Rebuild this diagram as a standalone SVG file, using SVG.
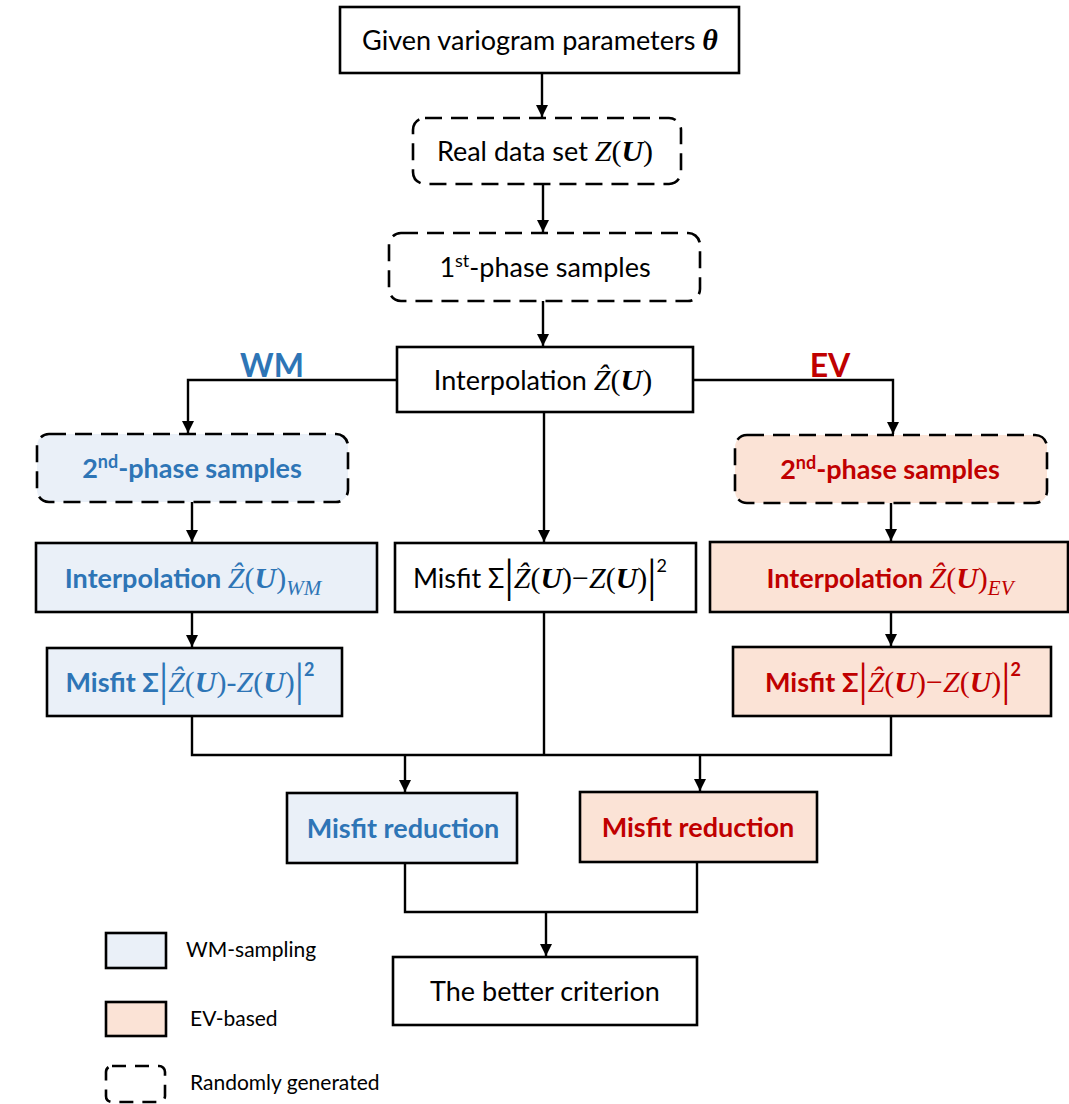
<svg xmlns="http://www.w3.org/2000/svg" width="1069" height="1104" viewBox="0 0 1069 1104">
<defs>
<marker id="arr" viewBox="0 0 10 10" refX="10" refY="5" markerWidth="5" markerHeight="5" markerUnits="strokeWidth" orient="auto">
<path d="M0,0 L10,5 L0,10 z" fill="#000"/>
</marker>
<style>
.box{stroke:#000;stroke-width:2.6;fill:#fff}
.dash{stroke-dasharray:17 9}
.wm{fill:#EAF0F8}
.ev{fill:#FBE3D6}
.t{font-family:Lato,"Liberation Sans",sans-serif;font-size:27px;fill:#000;text-anchor:middle}
.b{font-weight:bold}
.blue{fill:#2E75B6}
.red{fill:#C00000}
.s{font-family:"Liberation Serif",serif;font-size:30px;font-style:normal;font-weight:normal}
.m{font-family:"Liberation Serif",serif;font-size:30px;font-style:italic;font-weight:normal}
.mb{font-family:"Liberation Serif",serif;font-size:30px;font-style:italic;font-weight:bold}
.sub{font-family:"Liberation Serif",serif;font-size:21px;font-style:italic;font-weight:normal}
.bar{font-family:"Liberation Serif",serif;font-size:46px;font-style:normal;font-weight:normal}
.sup{font-size:18px}
.lg{font-family:Lato,"Liberation Sans",sans-serif;font-size:21px;fill:#000}
.c{fill:none;stroke:#000;stroke-width:2.4}
</style>
</defs>
<g id="connectors">
<path class="c" d="M542,73 V117" marker-end="url(#arr)"/>
<path class="c" d="M543,184 V232" marker-end="url(#arr)"/>
<path class="c" d="M543,301 V346" marker-end="url(#arr)"/>
<path class="c" d="M397,380 H188 V433" marker-end="url(#arr)"/>
<path class="c" d="M693,380 H893 V434" marker-end="url(#arr)"/>
<path class="c" d="M544,412 V542" marker-end="url(#arr)"/>
<path class="c" d="M192,502 V542" marker-end="url(#arr)"/>
<path class="c" d="M192,612 V647" marker-end="url(#arr)"/>
<path class="c" d="M891,503 V541" marker-end="url(#arr)"/>
<path class="c" d="M891,612 V646" marker-end="url(#arr)"/>
<path class="c" d="M192,716 V755 H891 V716"/>
<path class="c" d="M544,612 V755"/>
<path class="c" d="M405,755 V792" marker-end="url(#arr)"/>
<path class="c" d="M700,755 V791" marker-end="url(#arr)"/>
<path class="c" d="M405,863 V912 H697 V862"/>
<path class="c" d="M546,912 V956" marker-end="url(#arr)"/>
</g>
<g id="given">
<rect class="box" x="340" y="7" width="399" height="66"/>
<text class="t" x="540" y="50">Given variogram parameters <tspan class="mb">θ</tspan></text>
</g>
<g id="realdata">
<rect class="box dash" x="413" y="118" width="268" height="66" rx="12"/>
<text class="t" x="545" y="161">Real data set <tspan class="m">Z</tspan><tspan class="s">(</tspan><tspan class="mb">U</tspan><tspan class="s">)</tspan></text>
</g>
<g id="phase1">
<rect class="box dash" x="389" y="233" width="311" height="68" rx="12"/>
<text class="t" x="545" y="277">1<tspan class="sup" dy="-10">st</tspan><tspan dy="10">-phase samples</tspan></text>
</g>
<text class="t b blue" x="272" y="377" style="font-size:32px">WM</text>
<text class="t b red" x="830" y="377" style="font-size:32px">EV</text>
<g id="interp">
<rect class="box" x="397" y="347" width="296" height="65"/>
<text class="t" x="543" y="390">Interpolation <tspan class="m">Ẑ</tspan><tspan class="s">(</tspan><tspan class="mb">U</tspan><tspan class="s">)</tspan></text>
</g>
<g id="wm-phase2">
<rect class="box dash wm" x="37" y="434" width="311" height="68" rx="12"/>
<text class="t b blue" x="192" y="478">2<tspan class="sup" dy="-10">nd</tspan><tspan dy="10">-phase samples</tspan></text>
</g>
<g id="wm-interp">
<rect class="box wm" x="36" y="543" width="341" height="69"/>
<text class="t b blue" x="193" y="588">Interpolation <tspan class="m">Ẑ</tspan><tspan class="s">(</tspan><tspan class="mb">U</tspan><tspan class="s">)</tspan><tspan class="sub" dy="7">WM</tspan></text>
</g>
<g id="wm-misfit">
<rect class="box wm" x="47" y="648" width="295" height="68"/>
<text class="t b blue" x="190" y="692">Misfit Σ<tspan class="bar" dy="3">|</tspan><tspan class="m" dy="-3">Ẑ</tspan><tspan class="s">(</tspan><tspan class="mb">U</tspan><tspan class="s">)-</tspan><tspan class="m">Z</tspan><tspan class="s">(</tspan><tspan class="mb">U</tspan><tspan class="s">)</tspan><tspan class="bar" dy="3">|</tspan><tspan class="sup" dy="-19">2</tspan></text>
</g>
<g id="mid-misfit">
<rect class="box" x="395" y="543" width="301" height="69"/>
<text class="t" x="540" y="588">Misfit Σ<tspan class="bar" dy="3">|</tspan><tspan class="m" dy="-3">Ẑ</tspan><tspan class="s">(</tspan><tspan class="mb">U</tspan><tspan class="s">)−</tspan><tspan class="m">Z</tspan><tspan class="s">(</tspan><tspan class="mb">U</tspan><tspan class="s">)</tspan><tspan class="bar" dy="3">|</tspan><tspan class="sup" dy="-19">2</tspan></text>
</g>
<g id="ev-phase2">
<rect class="box dash ev" x="735" y="435" width="312" height="68" rx="12"/>
<text class="t b red" x="890" y="479">2<tspan class="sup" dy="-10">nd</tspan><tspan dy="10">-phase samples</tspan></text>
</g>
<g id="ev-interp">
<rect class="box ev" x="710" y="542" width="358" height="70"/>
<text class="t b red" x="890" y="588">Interpolation <tspan class="m">Ẑ</tspan><tspan class="s">(</tspan><tspan class="mb">U</tspan><tspan class="s">)</tspan><tspan class="sub" dy="7">EV</tspan></text>
</g>
<g id="ev-misfit">
<rect class="box ev" x="733" y="647" width="318" height="69"/>
<text class="t b red" x="893" y="692">Misfit Σ<tspan class="bar" dy="3">|</tspan><tspan class="m" dy="-3">Ẑ</tspan><tspan class="s">(</tspan><tspan class="mb">U</tspan><tspan class="s">)−</tspan><tspan class="m">Z</tspan><tspan class="s">(</tspan><tspan class="mb">U</tspan><tspan class="s">)</tspan><tspan class="bar" dy="3">|</tspan><tspan class="sup" dy="-19">2</tspan></text>
</g>
<g id="wm-reduction">
<rect class="box wm" x="287" y="793" width="230" height="70"/>
<text class="t b blue" x="403" y="838">Misfit reduction</text>
</g>
<g id="ev-reduction">
<rect class="box ev" x="580" y="792" width="237" height="70"/>
<text class="t b red" x="698" y="837">Misfit reduction</text>
</g>
<g id="better">
<rect class="box" x="393" y="957" width="304" height="68"/>
<text class="t" x="545" y="1001">The better criterion</text>
</g>
<g id="legend">
<rect class="box wm" x="106" y="933" width="60" height="35"/>
<text class="lg" x="186" y="957">WM-sampling</text>
<rect class="box ev" x="106" y="1002" width="60" height="34"/>
<text class="lg" x="190" y="1026">EV-based</text>
<rect class="box dash" x="106" y="1066" width="59" height="36" rx="6" style="stroke-dasharray:14 9"/>
<text class="lg" x="190" y="1090">Randomly generated</text>
</g>
</svg>
